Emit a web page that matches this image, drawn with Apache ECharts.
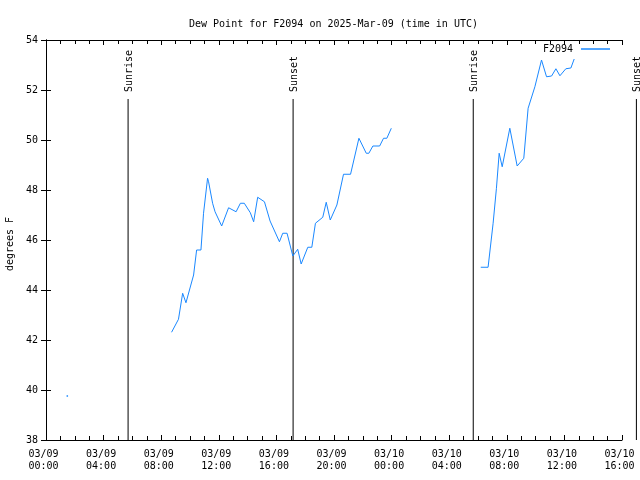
<!DOCTYPE html>
<html><head><meta charset="utf-8">
<script src="https://cdn.jsdelivr.net/npm/echarts@6/dist/echarts.min.js"></script>
<style>html,body{margin:0;padding:0;background:#fff}#c{width:640px;height:480px}</style>
</head><body><div id="c"></div>
<script>
// hours since 2025-03-09 00:00 UTC
const hours = [1.48, null,
 8.72, 9.2, 9.49, 9.72, 10.25, 10.46, 10.76, 10.94, 11.22, 11.29, 11.57, 11.74, 12.2, 12.68, 13.2, 13.5, 13.77, 14.19, 14.42, 14.7, 15.17, 15.56, 16.21, 16.44, 16.74, 17.14, 17.48, 17.72, 18.18, 18.46, 18.71, 19.22, 19.46, 19.74, 20.2, 20.66, 21.15, 21.73, 22.24, 22.42, 22.7, 23.17, 23.44, 23.67, 23.98,
 null,
 30.19, 30.7, 31.05, 31.28, 31.47, 31.68, 32.21, 32.72, 33.18, 33.48, 33.95, 34.41, 34.76, 35.11, 35.41, 35.69, 36.1, 36.45, 36.68];
const dewPoint = [39.76, null,
 42.31, 42.83, 43.87, 43.49, 44.6, 45.6, 45.6, 47.07, 48.47, 48.33, 47.47, 47.13, 46.56, 47.29, 47.13, 47.47, 47.47, 47.09, 46.73, 47.71, 47.53, 46.76, 45.93, 46.27, 46.27, 45.36, 45.63, 45.04, 45.71, 45.71, 46.67, 46.91, 47.51, 46.8, 47.4, 48.63, 48.63, 50.07, 49.47, 49.47, 49.76, 49.76, 50.07, 50.07, 50.47,
 null,
 44.91, 44.91, 46.67, 48.07, 49.47, 48.93, 50.47, 48.96, 49.27, 51.27, 52.13, 53.2, 52.53, 52.56, 52.85, 52.57, 52.85, 52.88, 53.24];
const sunEvents = ['Sunrise', 'Sunset', 'Sunrise', 'Sunset'];
const sunHours = [5.7, 17.16, 29.67, 41.0];
const xTickLabels = ['03/09\n00:00','03/09\n04:00','03/09\n08:00','03/09\n12:00','03/09\n16:00','03/09\n20:00','03/10\n00:00','03/10\n04:00','03/10\n08:00','03/10\n12:00','03/10\n16:00'];
const seriesName = 'F2094';

const FONT = 'DejaVu Sans Mono';
const LINE = '#1a88ff';
const chart = echarts.init(document.getElementById('c'), null, {renderer:'canvas'});

const lineData = hours.map((h, i) => {
  if (h === null) return [null, null];
  const isolated = (i === 0 || hours[i-1] === null) && (i === hours.length-1 || hours[i+1] === null);
  if (isolated) return {value:[h, dewPoint[i]], symbol:'rect', symbolSize:1.5, itemStyle:{color:LINE}};
  return [h, dewPoint[i]];
});

const axisCommon = {
  axisLine:{show:true, lineStyle:{color:'#000', width:1}},
  splitLine:{show:false}
};

chart.setOption({
  animation:false,
  backgroundColor:'#fff',
  title:{text:'Dew Point for F2094 on 2025-Mar-09 (time in UTC)', left:184, top:14,
    textStyle:{fontFamily:FONT, fontSize:10, fontWeight:'normal', color:'#000'}},
  legend:{data:[seriesName], right:25, top:39, align:'right', icon:'rect', itemWidth:29, itemHeight:1.5,
    itemGap:5, textStyle:{fontFamily:FONT, fontSize:10, color:'#000', padding:[0,3,0,0]}},
  grid:{left:46, right:18, top:40, bottom:40, containLabel:false, outerBoundsMode:'none'},
  xAxis:[
    Object.assign({type:'value', min:0, max:40, interval:4, position:'bottom',
      axisTick:{inside:true, length:5, lineStyle:{color:'#000'}},
      minorTick:{show:true, splitNumber:4, length:4, lineStyle:{color:'#000'}},
      axisLabel:{fontFamily:FONT, fontSize:10, color:'#000', lineHeight:12, margin:8, padding:[0,5,0,0],
        formatter:v => xTickLabels[Math.round(v/4)] || ''}}, axisCommon),
    Object.assign({type:'value', min:0, max:40, interval:4, position:'top',
      axisTick:{inside:true, length:5, lineStyle:{color:'#000'}},
      minorTick:{show:true, splitNumber:4, length:4, lineStyle:{color:'#000'}},
      axisLabel:{show:false}}, axisCommon)
  ],
  yAxis:[
    Object.assign({type:'value', min:38, max:54, interval:2, position:'left',
      name:'degrees F', nameLocation:'middle', nameGap:31, nameRotate:90,
      nameTextStyle:{fontFamily:FONT, fontSize:10, color:'#000', padding:[0,8,0,0]},
      axisTick:{inside:true, length:5, lineStyle:{color:'#000'}},
      axisLabel:{fontFamily:FONT, fontSize:10, color:'#000', margin:8}}, axisCommon),
    Object.assign({type:'value', min:38, max:54, interval:2, position:'right',
      axisTick:{inside:true, length:5, lineStyle:{color:'#000'}},
      axisLabel:{show:false}}, axisCommon)
  ],
  series:[
    {name:seriesName, type:'line', data:lineData, showSymbol:true, symbol:'none',
      connectNulls:false, lineStyle:{color:LINE, width:1}, itemStyle:{color:LINE},
      emphasis:{disabled:true}},
    {name:'sun', type:'custom', clip:false, silent:true,
      data:sunHours.map((h,i)=>[h, i]),
      renderItem:function(params, api){
        const h = api.value(0);
        const label = sunEvents[api.value(1)];
        const bottom = api.coord([h, 38]);
        const topY = bottom[1] - 341;
        return {type:'group', children:[
          {type:'line', shape:{x1:bottom[0], y1:bottom[1], x2:bottom[0], y2:topY},
            style:{stroke:'#000', lineWidth:1}},
          {type:'text', x:bottom[0]+1, y:topY-7, rotation:Math.PI/2,
            style:{text:label, fontFamily:FONT, fontSize:10, fill:'#000', align:'left', verticalAlign:'middle'}}
        ]};
      }
    }
  ]
});
</script></body></html>
